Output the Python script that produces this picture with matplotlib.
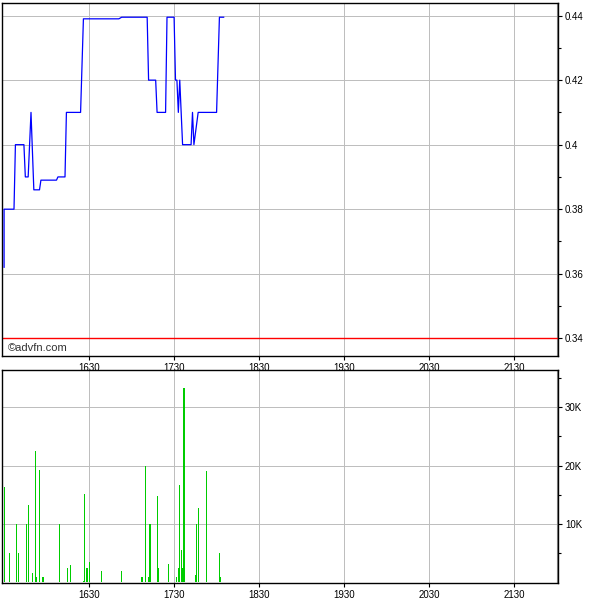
import matplotlib
matplotlib.use("Agg")
import matplotlib.pyplot as plt
from matplotlib.ticker import FixedLocator, NullFormatter

plt.rcParams['font.family'] = ['Liberation Sans', 'DejaVu Sans']

# intraday trades
price_times = ["15:30", "15:30", "15:37", "15:38", "15:44", "15:45", "15:47", "15:49",
               "15:51", "15:55", "15:56", "16:07", "16:08", "16:13", "16:14", "16:24",
               "16:26", "16:51", "16:53", "17:11", "17:12", "17:17", "17:18", "17:24",
               "17:25", "17:30", "17:31", "17:32", "17:33", "17:34", "17:36", "17:42",
               "17:43", "17:44", "17:47", "18:00", "18:02", "18:05"]
prices = [0.362, 0.380, 0.380, 0.400, 0.400, 0.390, 0.390, 0.410,
          0.386, 0.386, 0.389, 0.389, 0.390, 0.390, 0.410, 0.410,
          0.439, 0.439, 0.4395, 0.4395, 0.420, 0.420, 0.410, 0.410,
          0.4395, 0.4395, 0.420, 0.420, 0.410, 0.420, 0.400, 0.400,
          0.410, 0.400, 0.410, 0.410, 0.4395, 0.4395]

vol_times = ["15:30", "15:34", "15:39", "15:40", "15:46", "15:47", "15:50", "15:52",
             "15:53", "15:55", "15:57", "15:58", "16:09", "16:15", "16:17", "16:26",
             "16:27", "16:28", "16:29", "16:30", "16:39", "16:53", "17:07", "17:08",
             "17:10", "17:12", "17:13", "17:18", "17:19", "17:26", "17:32", "17:33",
             "17:34", "17:35", "17:36", "17:37", "17:45", "17:46", "17:47", "17:53",
             "18:02", "18:03"]
volumes = [16400, 5000, 10000, 5000, 10000, 13200, 1600, 22500,
           900, 19300, 900, 900, 10000, 2400, 2900, 200,
           15200, 2400, 2400, 3400, 1900, 1900, 900, 900,
           20000, 900, 10000, 14700, 2400, 3100, 900, 2400,
           16700, 5500, 2400, 33300, 1200, 10000, 12800, 19000,
           5000, 900]

prev_close = 0.34
hour_ticks = ["16:30", "17:30", "18:30", "19:30", "20:30", "21:30"]
price_ticks = [0.34, 0.36, 0.38, 0.40, 0.42, 0.44]
price_labels = ["0.34", "0.36", "0.38", "0.4", "0.42", "0.44"]
vol_ticks = [10000, 20000, 30000]
vol_labels = ["10K", "20K", "30K"]


def to_min(t):
    h, m = t.split(":")
    return int(h) * 60 + int(m)


px = [to_min(t) for t in price_times]
vx = [to_min(t) for t in vol_times]
xt = [to_min(t) for t in hour_ticks]
xlim = (928.6, 1321.0)
grid_col = "#bcbcbc"

fig = plt.figure(figsize=(6, 6), dpi=100)
ax1 = fig.add_axes([0.0035, 0.4067, 0.9265, 0.5888])
ax2 = fig.add_axes([0.0035, 0.0283, 0.9265, 0.3550])

for ax in (ax1, ax2):
    ax.set_xlim(*xlim)
    ax.xaxis.set_major_locator(FixedLocator(xt))
    ax.set_xticklabels([t.replace(":", "") for t in hour_ticks])
    ax.yaxis.tick_right()
    ax.tick_params(axis="both", which="major", direction="out", length=3,
                   width=0.8, labelsize=7, pad=2)
    ax.tick_params(axis="y", which="minor", direction="out", length=2, width=0.8)
    ax.grid(True, which="major", color=grid_col, linewidth=0.7)
    ax.set_axisbelow(True)
    ax.axvline(1320, color="#909090", linewidth=0.8)
    for s in ax.spines.values():
        s.set_color("black")
        s.set_linewidth(1.0)

# price panel
ax1.set_ylim(0.3345, 0.4440)
ax1.yaxis.set_major_locator(FixedLocator(price_ticks))
ax1.set_yticklabels(price_labels)
ax1.yaxis.set_minor_locator(FixedLocator([0.35, 0.37, 0.39, 0.41, 0.43]))
ax1.yaxis.set_minor_formatter(NullFormatter())
ax1.axhline(prev_close, color="red", linewidth=1.0, zorder=2)
ax1.plot(px, prices, color="#0000ff", linewidth=0.9, zorder=3)
ax1.text(0.010, 0.023, "\u00a9advfn.com", transform=ax1.transAxes,
         fontsize=8, color="#333333", ha="left", va="center")

# volume panel
ax2.set_ylim(-120, 36350)
ax2.yaxis.set_major_locator(FixedLocator(vol_ticks))
ax2.set_yticklabels(vol_labels)
ax2.yaxis.set_minor_locator(FixedLocator([5000, 15000, 25000, 35000]))
ax2.yaxis.set_minor_formatter(NullFormatter())
ax2.bar(vx, volumes, width=0.75, color="#00cc00", linewidth=0, zorder=3)

fig.savefig("out.png", dpi=100)
